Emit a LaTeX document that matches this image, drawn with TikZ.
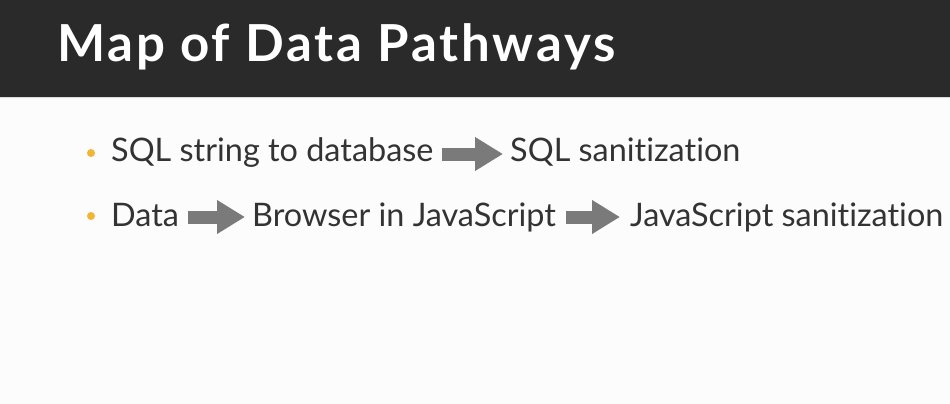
\documentclass[tikz,border=0pt]{standalone}
\usepackage{fontspec}
\setmainfont{Lato}[Ligatures=NoCommon]
\usetikzlibrary{positioning,arrows.meta}

\definecolor{barcol}{HTML}{2A2A2A}
\definecolor{dotcol}{HTML}{F2B632}
\definecolor{txtcol}{HTML}{333333}
\definecolor{arrcol}{HTML}{7A7A7A}

\tikzset{
  item/.style={inner sep=0pt, anchor=base west, text=txtcol, font=\fontsize{32.4}{38}\selectfont},
  flow/.style={draw=arrcol, line width=13pt, -{Triangle[length=28pt,width=32pt]}},
  dot/.style={circle, fill=dotcol, inner sep=0pt, minimum size=8pt}
}

\begin{document}
\begin{tikzpicture}[x=1pt,y=-1pt]
\useasboundingbox (0,0) rectangle (950,404);
\fill[white!99!black] (0,0) rectangle (950,404);
\fill[barcol] (0,0) rectangle (950,97);
\draw[black!15, line width=1pt] (0,97.5) -- (950,97.5);
\node[inner sep=0pt, anchor=base west, text=white, font=\fontsize{51}{56}\selectfont\bfseries\addfontfeatures{LetterSpace=5.5}] (title) at (57,62) {Map of Data Pathways};

% first pathway
\node[dot] (b1) at (91,153) {};
\node[item] (sql) at (111,161) {SQL string to database};
\node[item] (sqlsan) at (510,161) {SQL sanitization};
\draw[flow] ([xshift=8pt,yshift=7pt]sql.base east) -- ([xshift=-7pt,yshift=7pt]sqlsan.base west);

% second pathway
\node[dot] (b2) at (91,216) {};
\node[item] (data) at (111,226) {Data};
\node[item] (browser) at (252,226) {Browser in JavaScript};
\node[item] (jssan) at (630,226) {JavaScript sanitization};
\draw[flow] ([xshift=9pt,yshift=9pt]data.base east) -- ([xshift=-7pt,yshift=9pt]browser.base west);
\draw[flow] ([xshift=10pt,yshift=9pt]browser.base east) -- ([xshift=-10pt,yshift=9pt]jssan.base west);
\end{tikzpicture}
\end{document}
